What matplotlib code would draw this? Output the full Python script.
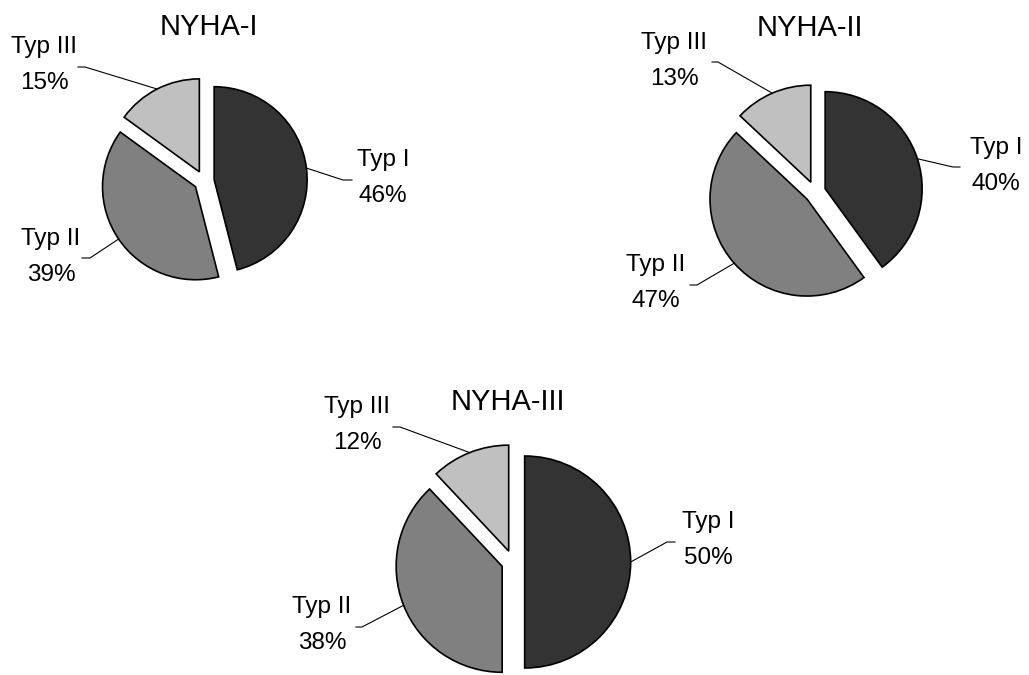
import numpy as np
import matplotlib

matplotlib.use("Agg")
import matplotlib.pyplot as plt

plt.rcParams["font.family"] = ["Liberation Sans", "DejaVu Sans"]

# --- Data ---
types = ["Typ I", "Typ II", "Typ III"]
colors = ["#333333", "#808080", "#c0c0c0"]
titles = ["NYHA-I", "NYHA-II", "NYHA-III"]
nyha1 = [46, 39, 15]
nyha2 = [40, 47, 13]
nyha3 = [50, 38, 12]
shares = [nyha1, nyha2, nyha3]

# --- Layout in pixels (x from left, y from top) ---
W, H = 1029, 675
centers = [(204, 181), (815, 192), (513, 562)]
radii = [93, 97, 106]
title_pos = [(209, 27), (810, 28), (508, 402)]
# per pie, per type: label centre, leader elbow, end of horizontal stub
label_pos = [
    [(383, 178), (51, 257), (44, 65)],
    [(996, 166), (656, 283), (674, 61)],
    [(708, 540), (322, 625), (357, 425)],
]
elbow_pos = [
    [(343, 180), (90, 258), (85, 67)],
    [(953, 167), (697, 285), (718, 62)],
    [(667, 542), (362, 627), (400, 427)],
]
stub_pos = [
    [(352, 180), (82, 258), (78, 67)],
    [(960, 167), (690, 285), (712, 62)],
    [(675, 542), (356, 627), (393, 427)],
]

fig = plt.figure(figsize=(W / 100, H / 100), dpi=100)

for k in range(3):
    cx, cy = centers[k]
    R = radii[k]
    half = 2.4  # axes half-width in radius units
    S = 2 * half * R
    ax = fig.add_axes([(cx - S / 2) / W, (H - cy - S / 2) / H, S / W, S / H])

    def to_data(p):
        return ((p[0] - cx) / R, (cy - p[1]) / R)

    wedges, _ = ax.pie(
        shares[k],
        colors=colors,
        startangle=90,
        counterclock=False,
        explode=[0.11] * 3,
        radius=1.0,
        wedgeprops=dict(edgecolor="black", linewidth=1.2),
    )
    ax.set_xlim(-half, half)
    ax.set_ylim(-half, half)
    ax.set_aspect("equal")
    ax.axis("off")

    for i, w in enumerate(wedges):
        mid = np.deg2rad((w.theta1 + w.theta2) / 2)
        start = (w.center[0] + np.cos(mid), w.center[1] + np.sin(mid))
        ex, ey = to_data(elbow_pos[k][i])
        sx, sy = to_data(stub_pos[k][i])
        ax.plot([start[0], ex, sx], [start[1], ey, sy], color="black", lw=0.8,
                clip_on=False)
        lx, ly = to_data(label_pos[k][i])
        ax.text(lx, ly, f"{types[i]}\n{shares[k][i]}%", ha="center", va="center",
                fontsize=17.5, linespacing=1.82)

    tx, ty = to_data(title_pos[k])
    ax.text(tx, ty, titles[k], ha="center", va="center", fontsize=21)

fig.savefig("out.png", dpi=100, facecolor="white")
